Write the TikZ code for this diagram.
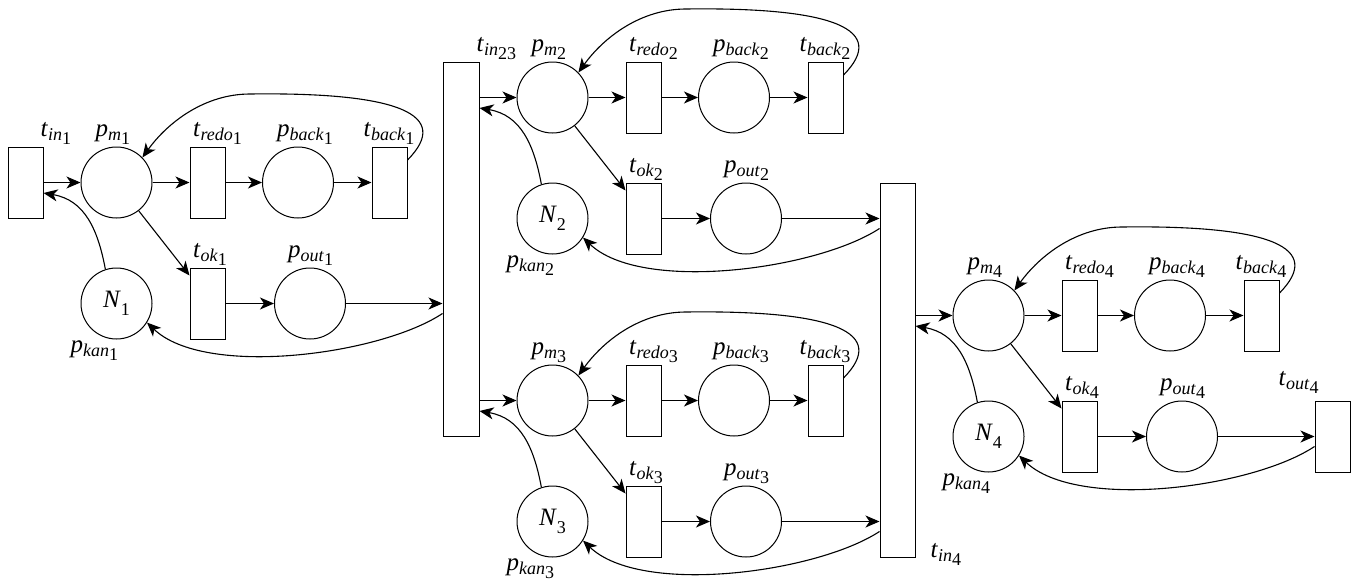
\documentclass[tikz,border=0pt]{standalone}
\usepackage{fontspec}
\setmainfont{Liberation Serif}
\usetikzlibrary{arrows.meta,calc}
\newcommand\mainsz{\fontsize{25}{25}\selectfont}
\newcommand\subsz{\fontsize{18}{18}\selectfont}
\newcommand\lbl[3]{\textit{#1}\raisebox{-4pt}{\subsz\textit{#2}\raisebox{-4pt}{#3}}}
\newcommand\nlbl[1]{\textit{N}\raisebox{-8pt}{\subsz #1}}
% #1 id, #2 dx, #3 dy, #4 input transition, #5 output transition
\newcommand\pnblock[5]{%
  \node[place] (pm#1) at (116.5+#2,182.5+#3) {};
  \node[trans] (tredo#1) at (207.5+#2,182.5+#3) {};
  \node[place] (pback#1) at (298+#2,182.5+#3) {};
  \node[trans] (tback#1) at (389.5+#2,182.5+#3) {};
  \node[trans] (tok#1) at (207.5+#2,303.5+#3) {};
  \node[place] (pout#1) at (310+#2,303.5+#3) {};
  \node[place] (N#1) at (116.5+#2,303.5+#3) {\nlbl{#1}};
  \node[lab,anchor=south west] (Lpm#1) at ([xshift=-21pt,yshift=2pt]pm#1.north) {\lbl{p}{m}{#1}};
  \node[lab,anchor=south west] (Ltredo#1) at ([xshift=-14.5pt,yshift=2pt]tredo#1.north) {\lbl{t}{redo}{#1}};
  \node[lab,anchor=south west] (Lpback#1) at ([xshift=-21pt,yshift=2pt]pback#1.north) {\lbl{p}{back}{#1}};
  \node[lab,anchor=south west] (Ltback#1) at ([xshift=-26pt,yshift=2pt]tback#1.north) {\lbl{t}{back}{#1}};
  \node[lab,anchor=south west] (Ltok#1) at ([xshift=-14.5pt,yshift=2pt]tok#1.north) {\lbl{t}{ok}{#1}};
  \node[lab,anchor=south west] (Lpout#1) at ([xshift=-22pt,yshift=2pt]pout#1.north) {\lbl{p}{out}{#1}};
  \node[lab,anchor=north west] (Lpkan#1) at ([xshift=-46pt,yshift=-1pt]N#1.south) {\lbl{p}{kan}{#1}};
  \coordinate (pmlow#1) at ([yshift=-10.5pt]pm#1.center);
  \coordinate (poutlow#1) at ([yshift=-10pt]pout#1.center);
  \coordinate (topmid#1) at (250+#2,94+#3);
  \draw[arc] (pm#1 -| #4.east) -- (pm#1);
  \draw[arc] (pm#1) -- (tredo#1);
  \draw[arc] (tredo#1) -- (pback#1);
  \draw[arc] (pback#1) -- (tback#1);
  \draw[arc] (pm#1) -- ([yshift=-8pt]tok#1.north west);
  \draw[arc] (tok#1) -- (pout#1);
  \draw[arc] (pout#1) -- (pout#1 -| #5.west);
  \draw[arc] ([yshift=22.5pt]tback#1.east) .. controls (452+#2,115+#3) and (400+#2,92+#3) .. (topmid#1)
     .. controls (205+#2,94+#3) and (168+#2,122+#3) .. (pm#1.44);
  \draw[arc] (N#1.108) .. controls (98+#2,230+#3) and (85+#2,200+#3) .. (pmlow#1 -| #4.east);
  \draw[arc] (poutlow#1 -| #5.west) .. controls (380+#2,355+#3) and (205+#2,378+#3) .. (N#1.-32);
}
\begin{document}
\begin{tikzpicture}[x=1pt,y=-1pt,
  place/.style={circle,draw,minimum size=71pt,inner sep=0pt,line width=1pt,font=\mainsz},
  trans/.style={rectangle,draw,minimum width=35pt,minimum height=71pt,inner sep=0pt,line width=1pt},
  bigtrans/.style={trans,minimum height=374pt},
  arc/.style={-{Stealth[length=14pt,width=12pt,inset=4pt]},line width=1.1pt},
  lab/.style={font=\mainsz,inner sep=0pt}]
\useasboundingbox (0,0) rectangle (1351,581);
\node[trans] (tin1) at (25.5,182.5) {};
\node[bigtrans,minimum width=36pt] (tin23) at (461,249) {};
\node[bigtrans] (tin4) at (897.5,370) {};
\node[trans] (tout4) at (1332.5,437) {};
\node[lab,anchor=south west] (Ltin1) at ([xshift=-3pt,yshift=2pt]tin1.north east) {\lbl{t}{in}{1}};
\node[lab,anchor=south west] (Ltin23) at ([xshift=-3pt,yshift=2pt]tin23.north east) {\lbl{t}{in}{23}};
\node[lab,anchor=west] (Ltin4) at ([xshift=15pt,yshift=3.5pt]tin4.south east) {\lbl{t}{in}{4}};
\node[lab,anchor=south west] (Ltout4) at ([xshift=-36pt,yshift=7pt]tout4.north west) {\lbl{t}{out}{4}};
\pnblock{1}{0}{0}{tin1}{tin23}
\pnblock{2}{436}{-85}{tin23}{tin4}
\pnblock{3}{436}{218}{tin23}{tin4}
\pnblock{4}{872}{133}{tin4}{tout4}
\end{tikzpicture}
\end{document}
